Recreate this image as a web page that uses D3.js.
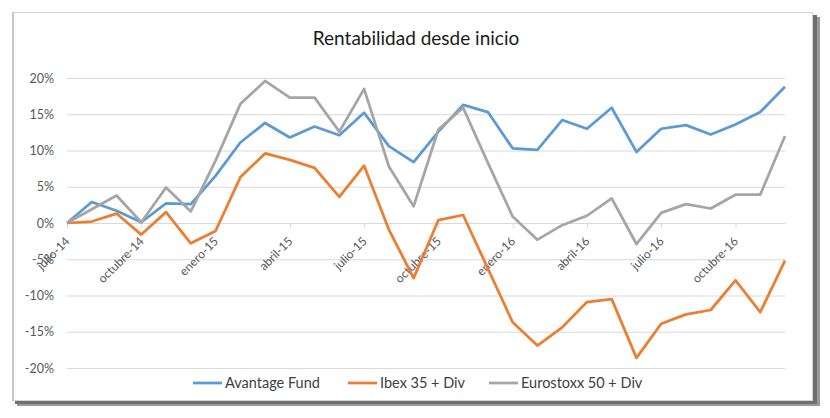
<!DOCTYPE html>
<html>
<head>
<meta charset="utf-8">
<script src="https://cdn.jsdelivr.net/npm/d3@7"></script>
<style>
  body { margin: 0; background: #fff; }
  text { font-family: Lato, "Open Sans", sans-serif; }
</style>
</head>
<body>
<svg width="830" height="418"></svg>
<script>
// monthly points, julio-14 .. diciembre-16
var months = ["julio-14","agosto-14","septiembre-14","octubre-14","noviembre-14","diciembre-14",
  "enero-15","febrero-15","marzo-15","abril-15","mayo-15","junio-15",
  "julio-15","agosto-15","septiembre-15","octubre-15","noviembre-15","diciembre-15",
  "enero-16","febrero-16","marzo-16","abril-16","mayo-16","junio-16",
  "julio-16","agosto-16","septiembre-16","octubre-16","noviembre-16","diciembre-16"];

var avantage = [0, 2.9, 1.7, 0.1, 2.7, 2.6, 6.5, 11.1, 13.8, 11.8, 13.3, 12.1, 15.2, 10.6, 8.4,
  12.6, 16.3, 15.3, 10.3, 10.1, 14.2, 13.0, 15.9, 9.8, 13.0, 13.5, 12.2, 13.6, 15.3, 18.8];
var ibex = [0, 0.2, 1.3, -1.6, 1.5, -2.8, -1.1, 6.3, 9.6, 8.7, 7.6, 3.6, 7.9, -0.9, -7.6,
  0.4, 1.1, -6.3, -13.7, -16.9, -14.4, -10.9, -10.5, -18.6, -13.9, -12.6, -12.0, -7.9, -12.3, -5.2];
var eurostoxx = [0, 1.9, 3.8, 0.1, 4.9, 1.6, 8.6, 16.4, 19.6, 17.3, 17.3, 12.6, 18.5, 7.8, 2.3,
  12.9, 15.9, 8.3, 0.9, -2.3, -0.3, 1.0, 3.4, -2.9, 1.4, 2.6, 2.0, 3.9, 3.9, 12.0];

var seriesNames = ["Avantage Fund", "Ibex 35 + Div", "Eurostoxx 50 + Div"];
var seriesColors = ["#5b9bd5", "#ed7d31", "#a5a5a5"];
var yTicks = [-20, -15, -10, -5, 0, 5, 10, 15, 20];

var svg = d3.select("svg");

// frame with shadow
svg.append("rect").attr("x", 17).attr("y", 17).attr("width", 803).attr("height", 389)
  .attr("fill", "#9a9a9a");
svg.append("rect").attr("x", 15).attr("y", 15).attr("width", 802).attr("height", 389)
  .attr("fill", "#6f6f6f");
svg.append("rect").attr("x", 12.5).attr("y", 12.5).attr("width", 800).attr("height", 388)
  .attr("fill", "#fff").attr("stroke", "#d4d4d4").attr("stroke-width", 1);
svg.append("line").attr("x1", 13).attr("x2", 13).attr("y1", 12).attr("y2", 401)
  .attr("stroke", "#c8c8c8").attr("stroke-width", 2);

var x = d3.scalePoint().domain(months).range([67, 785]);
var y = d3.scaleLinear().domain([-20, 20]).range([368, 78]);

// title
svg.append("text").attr("x", 416).attr("y", 45).attr("text-anchor", "middle")
  .attr("font-size", 19).attr("fill", "#1a1a1a").text("Rentabilidad desde inicio");

// grid + y labels
var yAxis = svg.append("g").attr("transform", "translate(67,0)")
  .call(d3.axisLeft(y).tickValues(yTicks).tickSize(-718).tickPadding(13)
    .tickFormat(function(d) { return d + "%"; }));
yAxis.select(".domain").remove();
yAxis.selectAll("line").attr("stroke", "#d9d9d9").attr("stroke-width", 1);
yAxis.selectAll("text").attr("font-size", 12.5).attr("fill", "#595959")
  .attr("font-family", "Lato, sans-serif");

// x axis on zero line
var xAxis = svg.append("g").attr("transform", "translate(0," + y(0) + ")")
  .call(d3.axisBottom(x).tickValues(months.filter(function(d, i) { return i % 3 == 0; }))
    .tickSize(5).tickSizeOuter(0));
xAxis.select(".domain").attr("stroke", "#d9d9d9");
xAxis.selectAll("line").attr("stroke", "#d9d9d9");
xAxis.selectAll("text").attr("font-size", 12).attr("fill", "#595959")
  .attr("font-family", "Lato, sans-serif")
  .attr("text-anchor", "end").attr("dy", 0)
  .attr("transform", "translate(3,19) rotate(-45)")
  .attr("y", 0).attr("x", 0);

// lines
var line = d3.line().x(function(d, i) { return x(months[i]); }).y(function(d) { return y(d); });
[avantage, ibex, eurostoxx].forEach(function(s, k) {
  svg.append("path").datum(s).attr("d", line).attr("fill", "none")
    .attr("stroke", seriesColors[k]).attr("stroke-width", 2.75)
    .attr("stroke-linejoin", "round");
});

// legend
var legX = [193, 348, 489];
var leg = svg.append("g").selectAll("g").data(seriesNames).enter().append("g")
  .attr("transform", function(d, i) { return "translate(" + legX[i] + ",383)"; });
leg.append("line").attr("x1", 0).attr("x2", 29).attr("stroke", function(d, i) { return seriesColors[i]; })
  .attr("stroke-width", 2.75);
leg.append("text").attr("x", 32).attr("dy", "0.35em").attr("font-size", 14.5)
  .attr("fill", "#404040").text(function(d) { return d; });
</script>
</body>
</html>
